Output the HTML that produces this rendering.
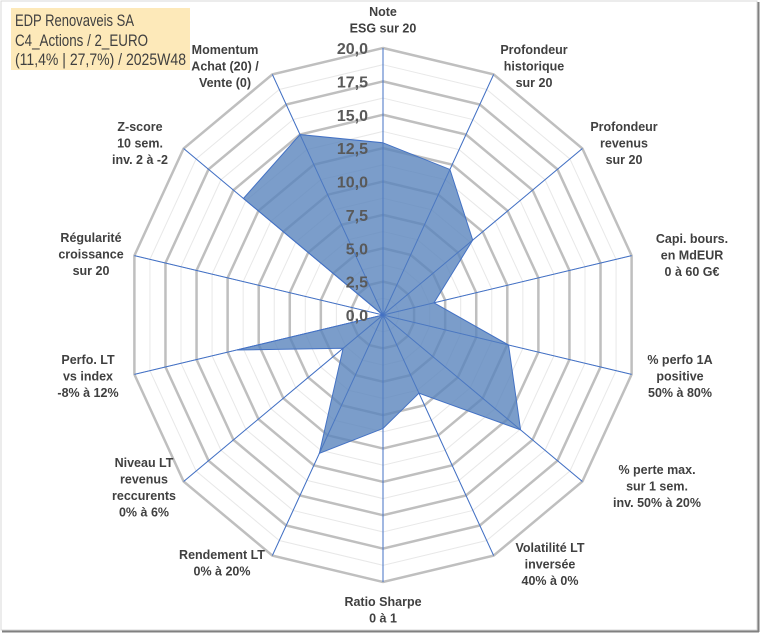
<!DOCTYPE html>
<html><head><meta charset="utf-8"><style>
body{margin:0;background:#fff;}
#wrap{position:relative;width:760px;height:633px;overflow:hidden;font-family:"Liberation Sans",sans-serif;}
svg text{font-family:"Liberation Sans",sans-serif;}
</style></head><body>
<div id="wrap">
<svg id="chart" width="760" height="633">
<rect x="1" y="1" width="756" height="629" fill="#fff" stroke="#d9d9d9" stroke-width="1"/>
<line x1="2" y1="631.5" x2="759" y2="631.5" stroke="#808080" stroke-width="2"/>
<line x1="758.5" y1="2" x2="758.5" y2="632" stroke="#808080" stroke-width="2"/>
<rect x="11" y="8" width="179" height="62" fill="#fde9b9"/>
<text x="15" y="26" font-size="17" fill="#404040" textLength="119" lengthAdjust="spacingAndGlyphs">EDP Renovaveis SA</text>
<text x="15" y="46" font-size="17" fill="#404040" textLength="133" lengthAdjust="spacingAndGlyphs">C4_Actions / 2_EURO</text>
<text x="15" y="65" font-size="17" fill="#404040" textLength="171" lengthAdjust="spacingAndGlyphs">(11,4% | 27,7%) / 2025W48</text>
<g id="grid"></g><g id="series"></g><g id="labels"></g>
</svg>
</div>
<script>
const categories=[["Note","ESG sur 20"],["Profondeur","historique","sur 20"],["Profondeur","revenus","sur 20"],["Capi. bours.","en MdEUR","0 à 60 G€"],["% perfo 1A","positive","50% à 80%"],["% perte max.","sur 1 sem.","inv. 50% à 20%"],["Volatilité LT","inversée","40% à 0%"],["Ratio Sharpe","0 à 1"],["Rendement LT","0% à 20%"],["Niveau LT","revenus","reccurents","0% à 6%"],["Perfo. LT","vs index","-8% à 12%"],["Régularité","croissance","sur 20"],["Z-score","10 sem.","inv. 2 à -2"],["Momentum","Achat (20) /","Vente (0)"]];
const values=[12.9,12.1,9.0,4.1,10.1,13.8,6.5,8.5,11.5,4.0,11.8,0,14.0,15.0];
const tickLabels=["0,0","2,5","5,0","7,5","10,0","12,5","15,0","17,5","20,0"];
const labelPos=[[383,12],[534,50],[624,127],[692,239],[680,360],[657,470],[550,548],[383,602],[222,555],[144,463],[88,360],[91,238],[140,127],[225,50]];
const NS="http://www.w3.org/2000/svg";
const cx=383,cy=315,Rx=255,Ry=267,maxV=20,n=categories.length;
function pt(i,v){const a=2*Math.PI*i/n;return [cx+Rx*v/maxV*Math.sin(a),cy-Ry*v/maxV*Math.cos(a)];}
function mk(tag,attrs,parent){const e=document.createElementNS(NS,tag);for(const k in attrs)e.setAttribute(k,attrs[k]);parent.appendChild(e);return e;}
const grid=document.getElementById('grid');
for(let k=1;k<=16;k++){const v=k*1.25;const pts=[];for(let i=0;i<n;i++)pts.push(pt(i,v).join(','));
 const major=k%2==0;
 const p=mk('polygon',{points:pts.join(' '),fill:'none',stroke:major?'#bfbfbf':'#e8e8e8','stroke-width':major?2.5:1},grid);
 
 }
for(let i=0;i<n;i++){const e=pt(i,maxV);const l=mk('line',{x1:cx,y1:cy,x2:e[0],y2:e[1],stroke:'#4472c4','stroke-width':1},grid);
 
 }
const series=document.getElementById('series');
const sp=values.map((v,i)=>pt(i,v).join(',')).join(' ');
const poly=mk('polygon',{points:sp,fill:'#5a85bd','fill-opacity':0.8,stroke:'#4472c4','stroke-width':1},series);


for(let i=0;i<n;i++){const l=mk('line',{x1:cx,y1:cy,x2:pt(i,maxV)[0],y2:pt(i,maxV)[1],stroke:'#4472c4','stroke-width':0.8,'stroke-opacity':0.6},series);
 
 }
const labels=document.getElementById('labels');
tickLabels.forEach((t,k)=>{const y=cy-Ry*(k*2.5)/maxV;const tx=mk('text',{x:368,y:y+6,'text-anchor':'end','font-size':16,'font-weight':'bold',fill:'#595959'},labels);tx.textContent=t;
 
 });
categories.forEach((c,i)=>{const [x,y]=labelPos[i];const g=mk('text',{'text-anchor':'middle','font-size':12.5,'font-weight':'bold',fill:'#404040'},labels);
 
 
 c.forEach((line,j)=>{const ts=mk('tspan',{x:x,y:y+4+j*16.5},g);ts.textContent=line;});});
</script>
</body></html>
